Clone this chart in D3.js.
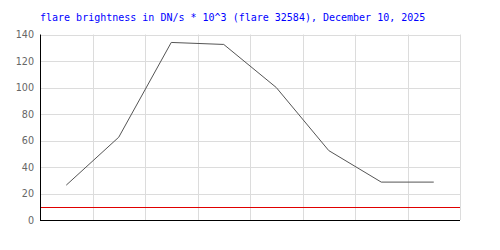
<!DOCTYPE html>
<html>
<head>
<meta charset="utf-8">
<script src="https://cdn.jsdelivr.net/npm/d3@7"></script>
<style>
  body { margin: 0; background: #fff; }
</style>
</head>
<body>
<script>
// Data
const titleText = "flare brightness in DN/s * 10^3 (flare 32584), December 10, 2025";
const samples = ["1", "2", "3", "4", "5", "6", "7", "8"];
const brightness = [26.3, 62.5, 134, 132.5, 100, 52.4, 28.6, 28.6];
const yTicks = [0, 20, 40, 60, 80, 100, 120, 140];
const threshold = 10;

// Constants
const width = 500;
const height = 250;
const margin = {top: 34.5, right: 40, bottom: 30, left: 40};

const svg = d3.select("body")
    .append("svg")
    .attr("width", width)
    .attr("height", height);

const xScale = d3
    .scaleBand()
    .domain(samples)
    .range([margin.left, width - margin.right]);
const yScale = d3
    .scaleLinear()
    .domain([0, 140])
    .range([height - margin.bottom, margin.top]);

// title
svg.append("text")
    .attr("x", margin.left)
    .attr("y", 21)
    .attr("fill", "#0000ff")
    .style("font-family", "DejaVu Sans Mono")
    .style("font-size", "10px")
    .text(titleText);

// grid lines
const grid = svg.append("g")
    .attr("stroke", "#dcdcdc")
    .attr("stroke-width", 1);
grid.selectAll("line.h")
    .data(yTicks.slice(1))
    .join("line")
    .attr("x1", margin.left)
    .attr("x2", width - margin.right)
    .attr("y1", d => Math.round(yScale(d)) + 0.5)
    .attr("y2", d => Math.round(yScale(d)) + 0.5);
grid.selectAll("line.v")
    .data(samples.slice(1).concat(["end"]))
    .join("line")
    .attr("x1", d => Math.round(d === "end" ? width - margin.right : xScale(d)) + 0.5)
    .attr("x2", d => Math.round(d === "end" ? width - margin.right : xScale(d)) + 0.5)
    .attr("y1", margin.top)
    .attr("y2", height - margin.bottom);

// y axis labels
const yAxis = svg
    .append("g")
    .attr("transform", `translate(${margin.left}, 0)`)
    .call(d3.axisLeft(yScale).tickValues(yTicks).tickSize(0).tickPadding(6));
yAxis.select(".domain").remove();
yAxis.selectAll("text")
    .attr("fill", "#666")
    .style("font-family", "DejaVu Sans")
    .style("font-size", "9.6px");

// threshold line
svg.append("line")
    .attr("x1", margin.left)
    .attr("x2", width - margin.right)
    .attr("y1", Math.round(yScale(threshold)) + 0.5)
    .attr("y2", Math.round(yScale(threshold)) + 0.5)
    .attr("stroke", "#e00000")
    .attr("stroke-width", 1);

// axes lines
svg.append("line")
    .attr("x1", margin.left + 0.5)
    .attr("x2", margin.left + 0.5)
    .attr("y1", margin.top)
    .attr("y2", yScale(0) + 0.5)
    .attr("stroke", "#000")
    .attr("stroke-width", 1);
svg.append("line")
    .attr("x1", margin.left)
    .attr("x2", width - margin.right)
    .attr("y1", Math.round(yScale(0)) + 0.5)
    .attr("y2", Math.round(yScale(0)) + 0.5)
    .attr("stroke", "#000")
    .attr("stroke-width", 1);

// brightness line
svg.append("path")
    .datum(brightness)
    .attr("fill", "none")
    .attr("stroke", "#555")
    .attr("stroke-width", 1)
    .attr("d", d3.line()
        .x((d, i) => xScale(samples[i]) + xScale.bandwidth() / 2)
        .y(d => yScale(d))
    );
</script>
</body>
</html>
